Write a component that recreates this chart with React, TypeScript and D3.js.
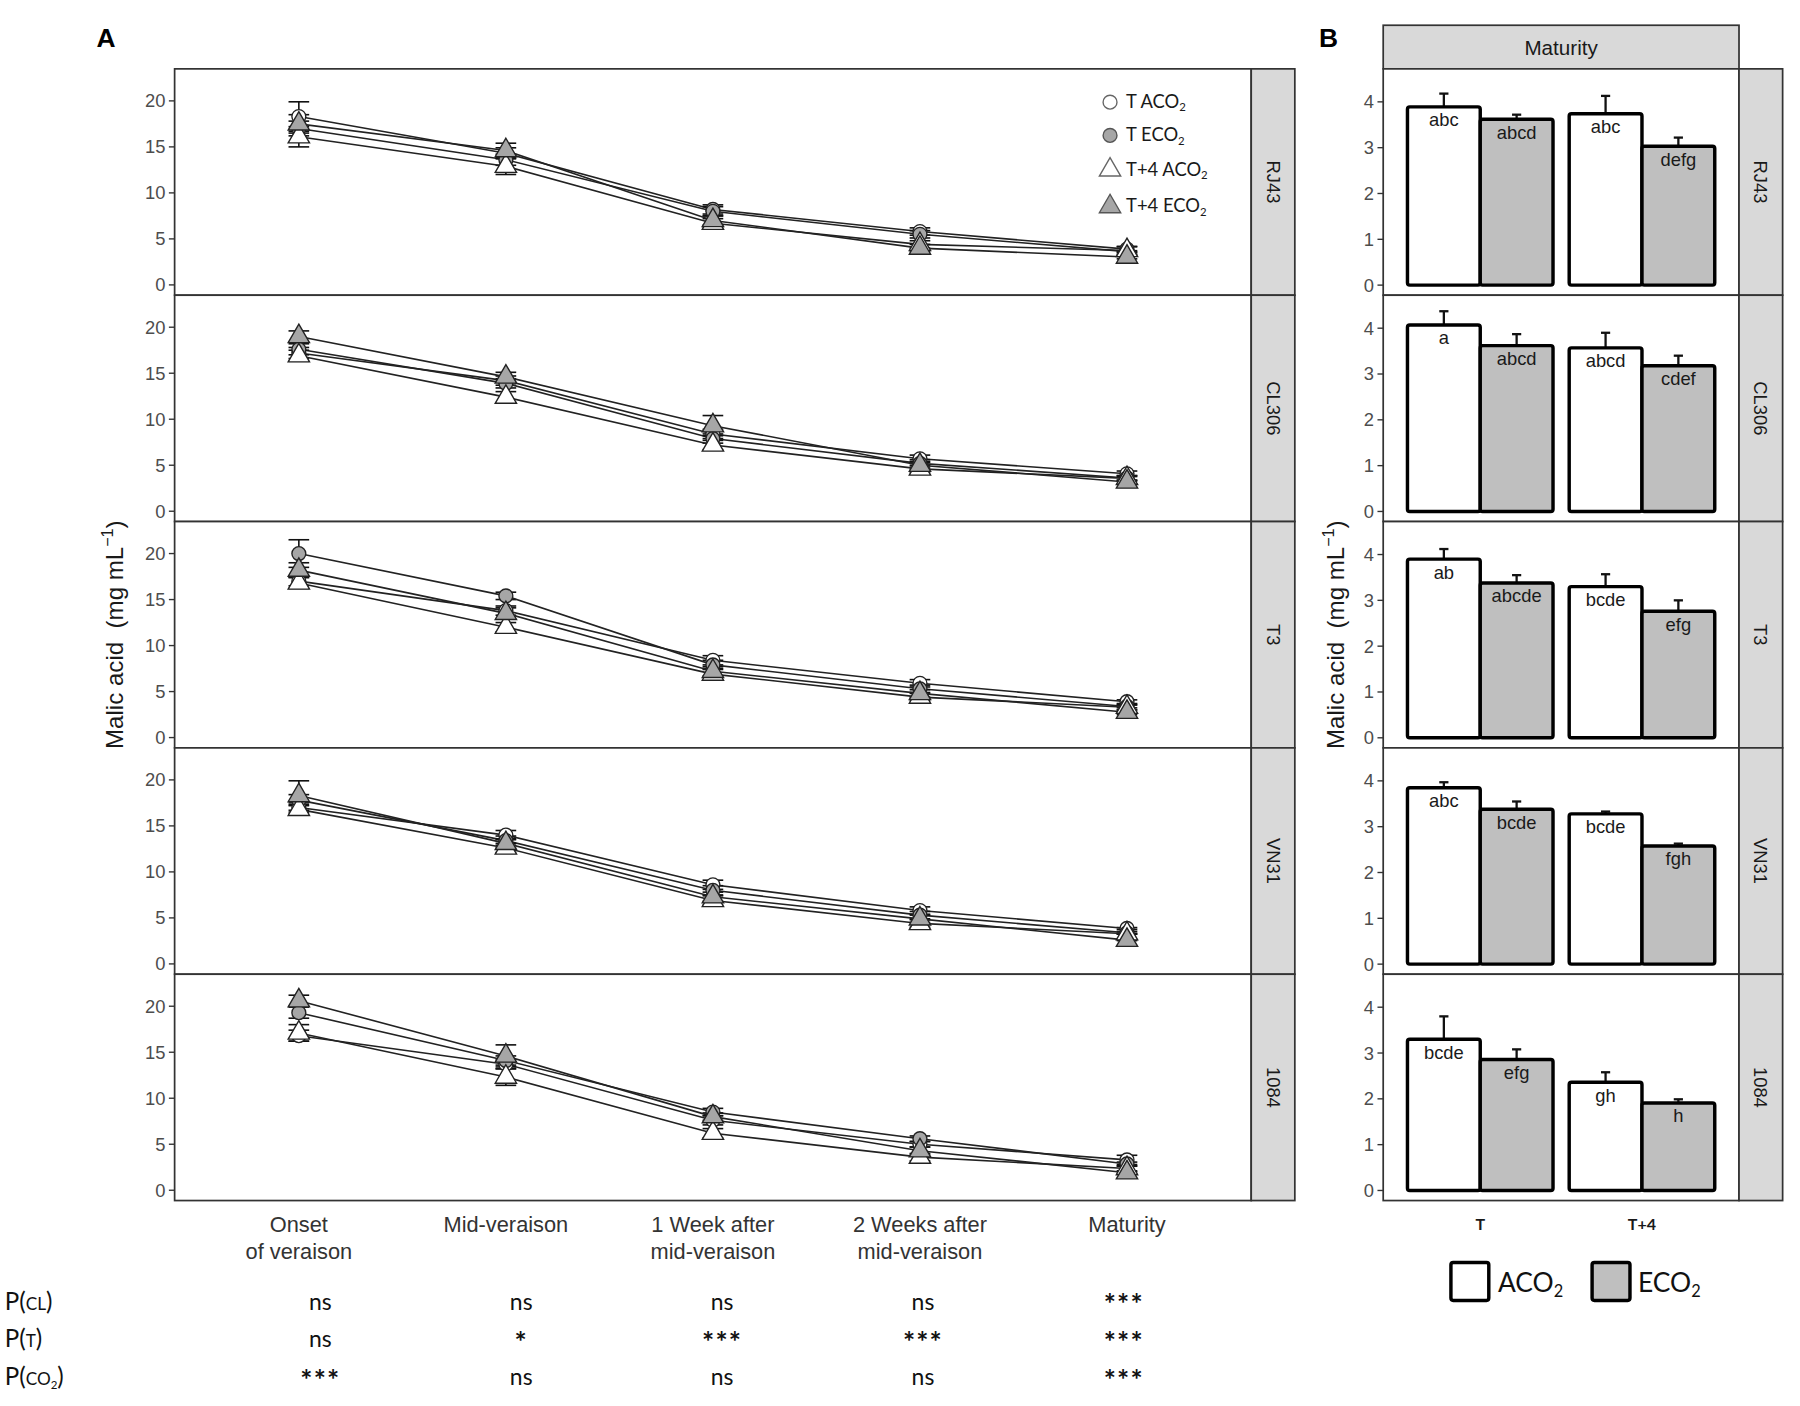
import * as d3 from "d3";

// stages of berry development (x axis of panel A)
const stages = ["Onset|of veraison", "Mid-veraison", "1 Week after|mid-veraison", "2 Weeks after|mid-veraison", "Maturity"];
const cultivars = ["RJ43", "CL306", "T3", "VN31", "1084"];
const seriesLabels = ["T ACO", "T ECO", "T+4 ACO", "T+4 ECO"];

// malic acid (mg/mL), one row per cultivar, one value per stage
const tACO2 = [
  [18.3, 14.3, 8.2, 5.8, 3.89],
  [17.2, 14.2, 8.4, 5.7, 4.07],
  [17.0, 13.8, 8.4, 5.9, 3.9],
  [17.0, 14.0, 8.6, 5.8, 3.85],
  [16.8, 13.7, 7.6, 5.0, 3.3],
];
const tECO2 = [
  [17.0, 13.6, 8.0, 5.5, 3.62],
  [17.6, 13.9, 7.9, 5.2, 3.62],
  [20.0, 15.4, 7.9, 5.3, 3.38],
  [17.8, 13.4, 8.0, 5.3, 3.38],
  [19.3, 14.1, 8.5, 5.6, 2.86],
];
const t4ACO2 = [
  [16.1, 12.9, 6.7, 4.4, 3.74],
  [16.9, 12.4, 7.2, 4.6, 3.57],
  [16.8, 12.0, 6.9, 4.4, 3.3],
  [16.8, 12.6, 6.9, 4.4, 3.28],
  [17.1, 12.3, 6.2, 3.6, 2.36],
];
const t4ECO2 = [
  [17.5, 14.6, 7.0, 4.0, 3.03],
  [19.0, 14.6, 9.3, 5.0, 3.18],
  [18.2, 13.5, 7.2, 4.8, 2.76],
  [18.3, 13.1, 7.3, 4.9, 2.58],
  [20.6, 14.6, 8.0, 4.3, 1.91],
];
// standard errors
const tACO2Se = [
  [1.6, 0.6, 0.5, 0.4, 0.3],
  [0.6, 0.5, 0.5, 0.4, 0.3],
  [0.5, 0.5, 0.5, 0.4, 0.2],
  [0.5, 0.5, 0.5, 0.4, 0.1],
  [0.6, 0.5, 0.5, 0.3, 0.5],
];
const tECO2Se = [
  [0.8, 0.6, 0.5, 0.4, 0.1],
  [0.6, 0.5, 0.5, 0.4, 0.25],
  [1.5, 0.4, 0.5, 0.4, 0.15],
  [0.6, 0.5, 0.5, 0.4, 0.15],
  [0.6, 0.5, 0.4, 0.3, 0.2],
];
const t4ACO2Se = [
  [1.1, 0.9, 0.5, 0.4, 0.4],
  [0.6, 0.6, 0.5, 0.4, 0.3],
  [0.6, 0.5, 0.6, 0.4, 0.3],
  [0.5, 0.5, 0.5, 0.4, 0.05],
  [0.9, 0.9, 0.5, 0.4, 0.25],
];
const t4ECO2Se = [
  [1.0, 0.8, 0.5, 0.4, 0.2],
  [0.6, 0.5, 1.1, 0.4, 0.2],
  [0.8, 0.6, 0.5, 0.4, 0.25],
  [1.6, 0.5, 0.5, 0.4, 0.05],
  [0.6, 1.2, 0.4, 0.4, 0.1],
];

// panel B: maturity, [T, T+4] per cultivar
const temps = ["T", "T+4"];
const aco2Mat = [[3.89, 3.74], [4.07, 3.57], [3.9, 3.3], [3.85, 3.28], [3.3, 2.36]];
const eco2Mat = [[3.62, 3.03], [3.62, 3.18], [3.38, 2.76], [3.38, 2.58], [2.86, 1.91]];
const aco2MatSe = [[0.29, 0.39], [0.3, 0.33], [0.22, 0.27], [0.12, 0.05], [0.5, 0.22]];
const eco2MatSe = [[0.1, 0.19], [0.25, 0.22], [0.17, 0.24], [0.17, 0.05], [0.22, 0.08]];
const aco2Letters = [["abc", "abc"], ["a", "abcd"], ["ab", "bcde"], ["abc", "bcde"], ["bcde", "gh"]];
const eco2Letters = [["abcd", "defg"], ["abcd", "cdef"], ["abcde", "efg"], ["bcde", "fgh"], ["efg", "h"]];

// ANOVA significance per stage
const pCL = ["ns", "ns", "ns", "ns", "***"];
const pT = ["ns", "*", "***", "***", "***"];
const pCO2 = ["***", "ns", "ns", "ns", "***"];

const ticksA = [0, 5, 10, 15, 20];
const ticksB = [0, 1, 2, 3, 4];

const seriesMeans = [tACO2, tECO2, t4ACO2, t4ECO2];
const seriesSe = [tACO2Se, tECO2Se, t4ACO2Se, t4ECO2Se];
const seriesShape = ["circle", "circle", "triangle", "triangle"];
const seriesFill = ["#ffffff", "#a6a6a6", "#ffffff", "#a6a6a6"];

const top0 = 60;
const panelH = 197.2;
const aLeft = 152, aRight = 1090;
const bLeft = 1205, bRight = 1515;
const stripW = 38;
const ink = "#333333";

const circlePath = d3.symbol(d3.symbolCircle, 115)() || "";
const trianglePath = d3.symbol(d3.symbolTriangle, 150)() || "";

function Sub({ base, sub }: { base: string; sub: string }) {
  return (
    <>
      <tspan>{base}</tspan>
      <tspan fontSize="0.62em" dy="0.3em">{sub}</tspan>
    </>
  );
}

function YTitle({ x }: { x: number }) {
  return (
    <text
      transform={`translate(${x},553) rotate(-90)`}
      textAnchor="middle"
      fontSize={21}
      fill="#1a1a1a"
      style={{ whiteSpace: "pre" }}
    >
      {"Malic acid  (mg mL"}
      <tspan dy={-9} fontSize={14}>−1</tspan>
      <tspan dy={9}>)</tspan>
    </text>
  );
}

export default function App() {
  const xA = d3.scalePoint<string>().domain(stages).range([aLeft, aRight]).padding(0.6);
  const pX = d3.scalePoint<string>().domain(stages).range([174, 1084]).padding(0.6);
  const yA = d3.scaleLinear().domain([-1.12, 23.48]).range([panelH, 0]);
  const xB = d3.scalePoint<string>().domain(temps).range([bLeft, bRight]).padding(0.6);
  const stepB = xB.step();
  const dodge = d3.scaleBand<string>().domain(["ACO2", "ECO2"]).range([-0.45 * stepB, 0.45 * stepB]);
  const yB = d3.scaleLinear().domain([-0.22, 4.72]).range([panelH, 0]);
  const line = d3.line<number>((_d, i) => xA(stages[i]) as number, (d) => yA(d));

  const pRows = [
    { lab: "CL", vals: pCL, sub: false },
    { lab: "T", vals: pT, sub: false },
    { lab: "CO", vals: pCO2, sub: true },
  ];

  return (
    <svg
      width={1800}
      height={1406}
      viewBox="0 0 1568 1225"
      style={{ position: "absolute", left: 0, top: 0, background: "#fff" }}
      fontFamily="'Liberation Sans', Arial, sans-serif"
    >
      <rect width={1568} height={1225} fill="#fff" />
      <text x={84} y={41} fontSize={23} fontWeight="bold">A</text>
      <text x={1149} y={41} fontSize={23} fontWeight="bold">B</text>

      {/* panel A */}
      {cultivars.map((cv, ci) => {
        const top = top0 + ci * panelH;
        return (
          <g key={cv} transform={`translate(0,${top})`}>
            <rect x={aLeft} y={0} width={aRight - aLeft} height={panelH} fill="#fff" stroke={ink} strokeWidth={1.5} />
            <rect x={aRight} y={0} width={stripW} height={panelH} fill="#d9d9d9" stroke={ink} strokeWidth={1.5} />
            <text
              transform={`translate(${aRight + stripW / 2},${panelH / 2}) rotate(90)`}
              textAnchor="middle"
              dominantBaseline="central"
              fontSize={16}
              fill="#1a1a1a"
            >
              {cv}
            </text>
            {ticksA.map((t) => (
              <g key={t}>
                <line x1={aLeft - 5} x2={aLeft} y1={yA(t)} y2={yA(t)} stroke={ink} strokeWidth={1.2} />
                <text x={aLeft - 8} y={yA(t)} textAnchor="end" dominantBaseline="central" fontSize={16} fill="#4d4d4d">
                  {t}
                </text>
              </g>
            ))}
            {seriesMeans.map((m, si) => (
              <g key={si}>
                {m[ci].map((v, i) => {
                  const x = xA(stages[i]) as number;
                  const se = seriesSe[si][ci][i];
                  return (
                    <g key={i} stroke="#111" strokeWidth={1.4}>
                      <line x1={x} x2={x} y1={yA(v - se)} y2={yA(v + se)} />
                      <line x1={x - 9} x2={x + 9} y1={yA(v - se)} y2={yA(v - se)} />
                      <line x1={x - 9} x2={x + 9} y1={yA(v + se)} y2={yA(v + se)} />
                    </g>
                  );
                })}
                <path d={line(m[ci]) || ""} fill="none" stroke="#222" strokeWidth={1.4} />
              </g>
            ))}
            {seriesMeans.map((m, si) => (
              <g key={"p" + si}>
                {m[ci].map((v, i) => (
                  <path
                    key={i}
                    d={seriesShape[si] === "circle" ? circlePath : trianglePath}
                    transform={`translate(${xA(stages[i])},${yA(v)})`}
                    fill={seriesFill[si]}
                    stroke="#222"
                    strokeWidth={1.2}
                  />
                ))}
              </g>
            ))}
          </g>
        );
      })}

      {/* legend A */}
      <g fontFamily="Lato, 'Open Sans', sans-serif" fontSize={16} fill="#1a1a1a">
        {seriesLabels.map((lab, si) => {
          const y = [89, 118, 148, 180][si];
          return (
            <g key={lab}>
              <path
                d={seriesShape[si] === "circle" ? circlePath : trianglePath}
                transform={`translate(967,${y})`}
                fill={seriesFill[si]}
                stroke={si % 2 === 0 ? "#666" : "#555"}
                strokeWidth={1.2}
              />
              <text x={981} y={y + 5}>
                <Sub base={lab} sub="2" />
              </text>
            </g>
          );
        })}
      </g>

      {/* x labels A */}
      {stages.map((s) => (
        <text key={s} x={xA(s)} y={1073} textAnchor="middle" fontSize={19} fill="#333">
          {s.split("|").map((ln, k) => (
            <tspan key={k} x={xA(s)} dy={k === 0 ? 0 : 24}>
              {ln}
            </tspan>
          ))}
        </text>
      ))}

      <YTitle x={107} />

      {/* p-values */}
      <g fontFamily="Lato, 'Open Sans', sans-serif" fill="#111">
        {pRows.map((r, ri) => {
          const y = 1141 + ri * 33;
          return (
            <g key={r.lab}>
              <text x={4} y={y} fontSize={21}>
                P(<tspan fontSize={15}>{r.lab}</tspan>
                {r.sub ? <tspan fontSize={10} dy={3}>2</tspan> : null}
                <tspan dy={r.sub ? -3 : 0}>)</tspan>
              </text>
              {r.vals.map((v, i) => (
                <text
                  key={i}
                  x={pX(stages[i])}
                  y={v === "ns" ? y : y + 4}
                  textAnchor="middle"
                  fontSize={v === "ns" ? 20 : 25}
                  fontWeight={v === "ns" ? "normal" : "bold"}
                  letterSpacing={v === "ns" ? 0 : 1}
                >
                  {v}
                </text>
              ))}
            </g>
          );
        })}
      </g>

      {/* panel B */}
      <rect x={bLeft} y={22} width={bRight - bLeft} height={top0 - 22} fill="#d9d9d9" stroke={ink} strokeWidth={1.5} />
      <text x={(bLeft + bRight) / 2} y={41} textAnchor="middle" dominantBaseline="central" fontSize={18} fill="#1a1a1a">
        Maturity
      </text>
      {cultivars.map((cv, ci) => {
        const top = top0 + ci * panelH;
        const bars = [
          { key: "ACO2", m: aco2Mat[ci], se: aco2MatSe[ci], lab: aco2Letters[ci], fill: "#ffffff" },
          { key: "ECO2", m: eco2Mat[ci], se: eco2MatSe[ci], lab: eco2Letters[ci], fill: "#bfbfbf" },
        ];
        return (
          <g key={cv} transform={`translate(0,${top})`}>
            <rect x={bLeft} y={0} width={bRight - bLeft} height={panelH} fill="#fff" stroke={ink} strokeWidth={1.5} />
            <rect x={bRight} y={0} width={stripW} height={panelH} fill="#d9d9d9" stroke={ink} strokeWidth={1.5} />
            <text
              transform={`translate(${bRight + stripW / 2},${panelH / 2}) rotate(90)`}
              textAnchor="middle"
              dominantBaseline="central"
              fontSize={16}
              fill="#1a1a1a"
            >
              {cv}
            </text>
            {ticksB.map((t) => (
              <g key={t}>
                <line x1={bLeft - 5} x2={bLeft} y1={yB(t)} y2={yB(t)} stroke={ink} strokeWidth={1.2} />
                <text x={bLeft - 8} y={yB(t)} textAnchor="end" dominantBaseline="central" fontSize={16} fill="#4d4d4d">
                  {t}
                </text>
              </g>
            ))}
            {bars.map((b) =>
              temps.map((t, ti) => {
                const x0 = (xB(t) as number) + (dodge(b.key) as number);
                const w = dodge.bandwidth();
                const cx = x0 + w / 2;
                return (
                  <g key={b.key + t}>
                    <line x1={cx} x2={cx} y1={yB(b.m[ti])} y2={yB(b.m[ti] + b.se[ti])} stroke="#111" strokeWidth={2} />
                    <line x1={cx - 4} x2={cx + 4} y1={yB(b.m[ti] + b.se[ti])} y2={yB(b.m[ti] + b.se[ti])} stroke="#111" strokeWidth={2} />
                    <rect
                      x={x0}
                      y={yB(b.m[ti])}
                      width={w}
                      height={yB(0) - yB(b.m[ti])}
                      fill={b.fill}
                      stroke="#000"
                      strokeWidth={3}
                      strokeLinejoin="round"
                      rx={2}
                    />
                    <text x={cx} y={yB(b.m[ti]) + 17} textAnchor="middle" fontSize={16} fill="#1a1a1a">
                      {b.lab[ti]}
                    </text>
                  </g>
                );
              })
            )}
          </g>
        );
      })}
      {temps.map((t) => (
        <text key={t} x={xB(t)} y={1072} textAnchor="middle" fontSize={14} fontWeight="bold" fill="#1a1a1a" fontFamily="Lato, sans-serif">
          {t}
        </text>
      ))}
      <YTitle x={1171} />

      {/* legend B */}
      <g fontFamily="Lato, 'Open Sans', sans-serif" fontSize={23} fill="#111">
        <rect x={1264} y={1100} width={33} height={33} fill="#fff" stroke="#000" strokeWidth={3} rx={2} />
        <text x={1305} y={1126}>
          <Sub base="ACO" sub="2" />
        </text>
        <rect x={1387} y={1100} width={33} height={33} fill="#bfbfbf" stroke="#000" strokeWidth={3} rx={2} />
        <text x={1427} y={1126}>
          <Sub base="ECO" sub="2" />
        </text>
      </g>
    </svg>
  );
}
